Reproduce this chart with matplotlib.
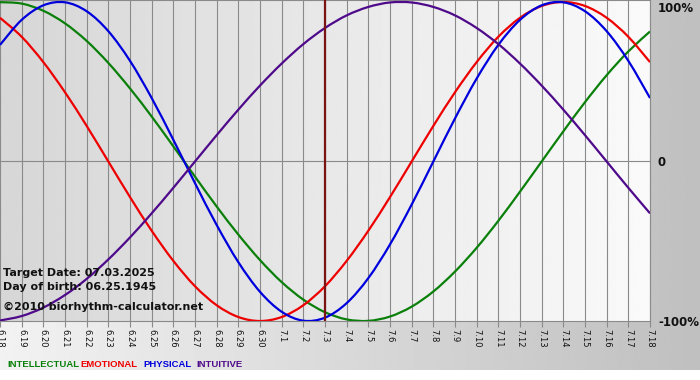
import matplotlib
matplotlib.use('Agg')
import matplotlib.pyplot as plt
from matplotlib.path import Path
from matplotlib.patches import PathPatch
import numpy as np

# Biorhythm values, one per day (6.18 .. 7.18)
dates = ['6.18', '6.19', '6.20', '6.21', '6.22', '6.23', '6.24', '6.25', '6.26',
         '6.27', '6.28', '6.29', '6.30', '7.1', '7.2', '7.3', '7.4', '7.5', '7.6',
         '7.7', '7.8', '7.9', '7.10', '7.11', '7.12', '7.13', '7.14', '7.15',
         '7.16', '7.17', '7.18']
intellectual = [0.999, 0.990, 0.945, 0.866, 0.756, 0.618, 0.458, 0.282, 0.095,
                -0.095, -0.282, -0.458, -0.618, -0.756, -0.866, -0.945, -0.990,
                -0.999, -0.972, -0.910, -0.815, -0.690, -0.541, -0.372, -0.189,
                0.0, 0.189, 0.372, 0.541, 0.690, 0.815]
emotional = [0.901, 0.782, 0.623, 0.434, 0.223, 0.0, -0.223, -0.434, -0.623,
             -0.782, -0.901, -0.975, -1.0, -0.975, -0.901, -0.782, -0.623,
             -0.434, -0.223, 0.0, 0.223, 0.434, 0.623, 0.782, 0.901, 0.975,
             1.0, 0.975, 0.901, 0.782, 0.623]
physical = [0.731, 0.888, 0.979, 0.998, 0.942, 0.817, 0.631, 0.398, 0.136,
            -0.136, -0.398, -0.631, -0.817, -0.942, -0.998, -0.979, -0.888,
            -0.731, -0.520, -0.270, 0.0, 0.270, 0.520, 0.731, 0.888, 0.979,
            0.998, 0.942, 0.817, 0.631, 0.398]
intuitive = [-0.997, -0.969, -0.916, -0.837, -0.736, -0.614, -0.476, -0.325,
             -0.165, 0.0, 0.165, 0.325, 0.476, 0.614, 0.736, 0.837, 0.916,
             0.969, 0.997, 0.997, 0.969, 0.916, 0.837, 0.736, 0.614, 0.476,
             0.325, 0.165, 0.0, -0.165, -0.325]
target_day = '7.3'
target_text = 'Target Date: 07.03.2025'
birth_text = 'Day of birth: 06.25.1945'
credit_text = '\u00a92010 biorhythm-calculator.net'

GREEN = '#0a800a'
RED = '#ee0000'
BLUE = '#0000dd'
PURPLE = '#4e0a8a'
GRID = '#8a8a8a'


def smooth_line(ax, xs, ys, color):
    """Draw a series as a smooth (Catmull-Rom style) bezier path through its points."""
    pts = np.column_stack([xs, ys]).astype(float)
    ext = np.vstack([pts[0], pts, pts[-1]])
    verts = [pts[0]]
    codes = [Path.MOVETO]
    for i in range(len(pts) - 1):
        p0, p1, p2, p3 = ext[i], ext[i + 1], ext[i + 2], ext[i + 3]
        verts += [p1 + (p2 - p0) / 6, p2 - (p3 - p1) / 6, p2]
        codes += [Path.CURVE4] * 3
    ax.add_patch(PathPatch(Path(verts, codes), fill=False, edgecolor=color,
                           lw=1.6, zorder=3))


W, H = 700, 380
fig = plt.figure(figsize=(W / 100, H / 100), dpi=100)

# figure background: horizontal grey gradient, white strip at the bottom
bg = fig.add_axes([0, 0, 1, 1], zorder=-5)
bg.imshow(np.linspace(0.95, 0.75, 256)[None, :], cmap='gray', vmin=0, vmax=1,
          extent=[0, W, H, 0], aspect='auto')
bg.axhspan(370, H, color='white', lw=0)
bg.set_xlim(0, W)
bg.set_ylim(H, 0)
bg.axis('off')

# plot area in pixel terms
px_right, px_bottom = 650, 321
ax = fig.add_axes([0, 1 - px_bottom / H, px_right / W, px_bottom / H])
ax.set_facecolor('none')
x = np.arange(len(dates))
ylo, yhi = -1.0, 1.0125
ax.imshow(np.linspace(0.84, 0.98, 256)[None, :], cmap='gray', vmin=0, vmax=1,
          extent=[x[0], x[-1], ylo, yhi], aspect='auto', zorder=0)

for xi in x:
    ax.axvline(xi, color=GRID, lw=0.8, zorder=1)
ax.axhline(0, color=GRID, lw=0.8, zorder=1)

smooth_line(ax, x, intellectual, GREEN)
smooth_line(ax, x, emotional, RED)
smooth_line(ax, x, physical, BLUE)
smooth_line(ax, x, intuitive, PURPLE)
ax.axvline(dates.index(target_day), color='#7a1414', lw=1.6, zorder=4)

ax.set_xlim(x[0], x[-1])
ax.set_ylim(ylo, yhi)
ax.set_yticks([])
ax.set_xticks(x)
ax.set_xticklabels(dates, rotation=270, fontsize=6, color='#111111')
ax.tick_params(axis='x', length=4, width=0.8, color=GRID, pad=2)
for side in ['top', 'bottom', 'right']:
    ax.spines[side].set_color(GRID)
    ax.spines[side].set_linewidth(0.8)
ax.spines['left'].set_visible(False)

# in-plot captions
for txt, base in [(target_text, 276), (birth_text, 290), (credit_text, 310)]:
    fig.text(3 / W, 1 - base / H, txt, fontsize=8, fontweight='bold',
             color='#111111', va='baseline', ha='left', zorder=10)

# right-hand percentage labels
for txt, base in [('100%', 12), ('0', 166), ('-100%', 326)]:
    fig.text(658 / W, 1 - base / H, txt, fontsize=8.5, fontweight='bold',
             color='#111111', va='baseline', ha='left')

# legend row
for txt, col, left in [('INTELLECTUAL', GREEN, 7), ('EMOTIONAL', RED, 80),
                       ('PHYSICAL', BLUE, 143), ('INTUITIVE', PURPLE, 196)]:
    fig.text(left / W, 1 - 367 / H, txt, fontsize=6.8, color=col,
             fontweight='bold', family='Liberation Sans', va='baseline',
             ha='left')

fig.savefig('out.png', dpi=100)
